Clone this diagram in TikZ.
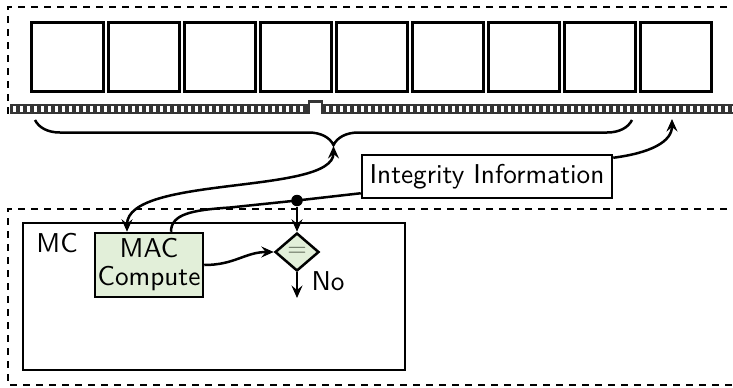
\documentclass[tikz,border=0pt]{standalone}
\usetikzlibrary{arrows.meta,decorations.pathreplacing,shapes.geometric,calc}
\definecolor{boxgreen}{HTML}{E2EFD9}
\definecolor{pindark}{HTML}{353535}
\definecolor{eqgray}{HTML}{5F6A58}
\tikzset{
  chip/.style={draw, line width=1.2pt, minimum width=28.4pt, minimum height=27.6pt, inner sep=0pt},
  region/.style={line width=0.9pt, dash pattern=on 2.8pt off 2.4pt},
  lbl/.style={font=\fontsize{10.9}{11.2}\selectfont\sffamily, inner sep=0pt},
  plainbox/.style={draw, line width=1pt, inner sep=0pt},
  macbox/.style={plainbox, lbl, fill=boxgreen, align=center, minimum width=43.2pt, minimum height=25.6pt},
  eqbox/.style={draw, line width=1pt, fill=boxgreen, diamond, aspect=1.16, inner sep=0pt, minimum width=17.6pt, minimum height=15.2pt, text=eqgray, font=\fontsize{10}{11}\selectfont},
  conn/.style={line width=1pt},
  tip/.style={-{Stealth[length=5pt,width=4.4pt,inset=1.8pt]}},
  tips/.style={{Stealth[length=5pt,width=4.4pt,inset=1.8pt]}-{Stealth[length=5pt,width=4.4pt,inset=1.8pt]}},
  dotnode/.style={circle, fill=black, inner sep=0pt, minimum size=4.6pt}
}
\begin{document}
\begin{tikzpicture}[x=0.4pt,y=-0.4pt]
\useasboundingbox (0,0) rectangle (733,387);

% upper region (DIMM)
\draw[region] (740,7) -- (8,7) -- (8,113) -- (12,113);

% memory chips
\foreach \i in {0,...,8} {
  \node[chip] (c\i) at ({67.5+76.1*\i},56.5) {};
}

% connector strip with pins
\fill[pindark] (10,103.5) rectangle (309,114);
\fill[pindark] (322,103.5) rectangle (735,114);
\draw[pindark, line width=1pt] (309,114) -- (309,101.5) -- (322,101.5) -- (322,114);
\foreach \i in {0,...,41} {
  \fill[white] ({13+7*\i},106) rectangle ++(3,5.5);
}
\foreach \i in {0,...,58} {
  \fill[white] ({326+7*\i},106) rectangle ++(3,5.5);
}

% brace
\coordinate (bl) at (35,120);
\coordinate (br) at (632,120);
\coordinate (btip) at (333.5,146);
\draw[conn, decorate, decoration={brace, mirror, amplitude=10pt}] (bl) -- (br);

% lower region (memory controller side)
\draw[region] (740,209) -- (8,209) -- (8,385) -- (740,385);
\node[plainbox, minimum width=152.8pt, minimum height=58.8pt] (mc) at (214,296.5) {};
\node[lbl, anchor=base west] (mclabel) at (36,252) {MC};

% nodes
\node[macbox] (mac) at (149,265) {MAC\\Compute};
\node[plainbox, lbl, minimum width=100pt, minimum height=17.2pt] (ii) at (487,176.5) {Integrity Information};
\node[eqbox] (eq) at (297,252) {=};
\node[dotnode] (dot) at (297,200.5) {};
\coordinate (slot) at (672,119);
\coordinate (noend) at (297,298);
\node[lbl, anchor=west] (nolabel) at (311,281) {No};

% connectors
\draw[conn, tips] (btip) .. controls (333.5,195) and (127,175) .. ([xshift=-8.8pt]mac.north);
\draw[conn] ([yshift=2.4pt]ii.south west) -- (dot.center) -- (230,207.5) .. controls (192,210) and (171,214) .. ([xshift=8.8pt]mac.north);
\draw[conn, tip] ([yshift=-1.6pt]ii.north east) .. controls (650,153) and (672,142) .. (slot);
\draw[conn, tip] (dot) -- (eq.north);
\draw[conn, tip] (mac.east) .. controls (235,265) and (245,252) .. (eq.west);
\draw[conn, tip] (eq.south) -- (noend);
\end{tikzpicture}
\end{document}
